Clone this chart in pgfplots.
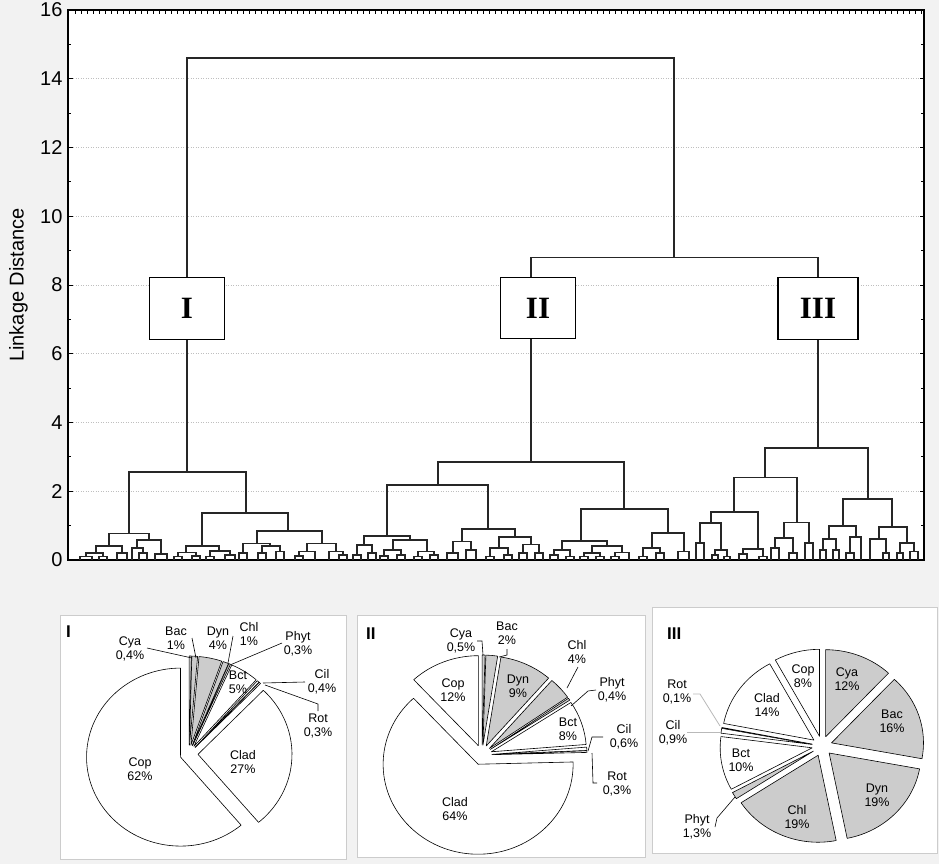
\documentclass[border=0pt]{standalone}
\usepackage{pgfplots}
\pgfplotsset{compat=1.18}
\usepackage{pgfplotstable}
\usepackage{fontspec}
\setmainfont{Liberation Sans}
\newfontfamily\romanfont{Liberation Serif}
\definecolor{slicegrey}{gray}{0.8}
\definecolor{linedark}{gray}{0.15}
\definecolor{bg}{gray}{0.95}

\pgfplotstableread{
name val g
Cya 0.4 1
Bac 1 1
Dyn 4 1
Chl 1 1
Phyt 0.3 1
Bct 5 0
Cil 0.4 0
Rot 0.3 0
Clad 27 0
Cop 62 0
}\pieI
\pgfplotstableread{
name val g
Cya 0.5 1
Bac 2 1
Dyn 9 1
Chl 4 1
Phyt 0.4 1
Bct 8 0
Cil 0.6 0
Rot 0.3 0
Clad 64 0
Cop 12 0
}\pieII
\pgfplotstableread{
name val g
Cya 12 1
Bac 16 1
Dyn 19 1
Chl 19 1
Phyt 1.3 1
Bct 10 0
Cil 0.9 0
Rot 0.1 0
Clad 14 0
Cop 8 0
}\pieIII

% #1 table, #2 cx, #3 cy, #4 rx, #5 ry, #6 explode
\newcommand\drawpie[6]{%
  \gdef\pietotal{0}%
  \pgfplotsforeachungrouped \i in {0,...,9}{%
    \pgfplotstablegetelem{\i}{val}\of{#1}%
    \pgfmathsetmacro\tmp{\pietotal+\pgfplotsretval}%
    \global\let\pietotal\tmp}%
  \gdef\pieang{90}%
  \pgfplotsforeachungrouped \i in {0,...,9}{%
    \pgfplotstablegetelem{\i}{val}\of{#1}%
    \pgfmathsetmacro\sweep{\pgfplotsretval/\pietotal*360}%
    \pgfmathsetmacro\aend{\pieang-\sweep}%
    \pgfmathsetmacro\amid{\pieang-\sweep/2}%
    \pgfmathsetmacro\ox{#2+#6*cos(\amid)}%
    \pgfmathsetmacro\oy{#3+#6*sin(\amid)}%
    \pgfplotstablegetelem{\i}{g}\of{#1}%
    \ifnum\pgfplotsretval=1 \def\fc{slicegrey}\else\def\fc{white}\fi
    \edef\cmd{\noexpand\filldraw[fill=\fc,draw=black,line width=0.6pt,line join=round] (axis cs:\ox,\oy) -- ++(\pieang:#4pt and #5pt) arc[start angle=\pieang,end angle=\aend,x radius=#4pt,y radius=#5pt] -- cycle;}%
    \cmd
    \global\let\pieang\aend}%
}

\tikzset{lab/.style={align=center, font=\fontsize{12.5}{14}\selectfont, inner sep=0pt},
  ldr/.style={black, line width=0.6pt},
  ldrg/.style={gray!55, line width=0.8pt}}

\begin{document}
\begin{tikzpicture}
\useasboundingbox (0,0) rectangle (939pt,-864pt);
\fill[bg] (0,0) rectangle (939pt,-864pt);
\filldraw[fill=white, draw=gray!40, line width=1pt] (60pt,-615pt) rectangle (346pt,-859pt);
\filldraw[fill=white, draw=gray!40, line width=1pt] (357pt,-615pt) rectangle (645pt,-857pt);
\filldraw[fill=white, draw=gray!40, line width=1pt] (652pt,-607pt) rectangle (937pt,-853pt);

\begin{axis}[
  at={(68pt,-560pt)}, anchor=south west,
  scale only axis, width=856pt, height=550pt,
  xmin=68, xmax=924, ymin=0, ymax=16,
  xtick={75,81,...,921}, xticklabels={},
  xtick pos=right,
  ytick={0,2,...,16},
  minor y tick num=1,
  ytick pos=both,
  tick align=inside,
  major tick length=4.5pt, minor tick length=3pt,
  ymajorgrids,
  grid style={gray!50, dash pattern=on 1pt off 1.5pt, line width=0.7pt},
  axis line style={black, line width=1.2pt},
  every tick/.style={black, line width=0.8pt},
  axis background/.style={fill=white},
  tick label style={font=\fontsize{20}{24}\selectfont},
  yticklabel style={xshift=-2pt},
  /pgf/number format/assume math mode=true,
  ylabel={Linkage Distance},
  ylabel style={font=\fontsize{20}{24}\selectfont, at={(axis description cs:-0.058,0.5)}, anchor=center},
  unbounded coords=jump,
  clip=false,
]
\addplot[linedark, line width=1.8pt, mark=none] coordinates {
(187,2.56) (187,14.6) (674,14.6) (674,8.8) (674,nan)
(531,2.85) (531,8.8) (818,8.8) (818,3.26) (818,nan)
(129,0.77) (129,2.56) (246,2.56) (246,1.37) (246,nan)
(109,0.41) (109,0.77) (149,0.77) (149,0.58) (149,nan)
(96,0.21) (96,0.41) (122,0.41) (122,0.2) (122,nan)
(86,0.1) (86,0.21) (103,0.21) (103,0.1) (103,nan)
(80,0) (80,0.1) (92,0.1) (92,0) (92,nan)
(99,0) (99,0.1) (107,0.1) (107,0) (107,nan)
(117,0) (117,0.2) (127,0.2) (127,0) (127,nan)
(137,0.35) (137,0.58) (161,0.58) (161,0.18) (161,nan)
(132,0) (132,0.35) (143,0.35) (143,0.2) (143,nan)
(139,0) (139,0.2) (147,0.2) (147,0) (147,nan)
(155,0) (155,0.18) (167,0.18) (167,0) (167,nan)
(202,0.40) (202,1.37) (288,1.37) (288,0.84) (288,nan)
(186,0.22) (186,0.40) (219,0.40) (219,0.26) (219,nan)
(178,0.1) (178,0.22) (196,0.22) (196,0.12) (196,nan)
(174,0) (174,0.1) (182,0.1) (182,0) (182,nan)
(192,0) (192,0.12) (200,0.12) (200,0) (200,nan)
(210,0.1) (210,0.26) (230,0.26) (230,0.15) (230,nan)
(206,0) (206,0.1) (214,0.1) (214,0) (214,nan)
(225,0) (225,0.15) (235,0.15) (235,0) (235,nan)
(257,0.48) (257,0.84) (322,0.84) (322,0.48) (322,nan)
(243,0.2) (243,0.48) (270,0.48) (270,0.41) (270,nan)
(239,0) (239,0.2) (247,0.2) (247,0) (247,nan)
(262,0.2) (262,0.41) (280,0.41) (280,0.25) (280,nan)
(258,0) (258,0.2) (266,0.2) (266,0) (266,nan)
(276,0) (276,0.25) (284,0.25) (284,0) (284,nan)
(307,0.25) (307,0.48) (336,0.48) (336,0.25) (336,nan)
(299,0.12) (299,0.25) (315,0.25) (315,0) (315,nan)
(295,0) (295,0.12) (303,0.12) (303,0) (303,nan)
(329,0) (329,0.25) (343,0.25) (343,0.15) (343,nan)
(339,0) (339,0.15) (347,0.15) (347,0) (347,nan)
(438,2.19) (438,2.85) (624,2.85) (624,1.48) (624,nan)
(387,0.70) (387,2.19) (488,2.19) (488,0.90) (488,nan)
(364,0.44) (364,0.70) (410,0.70) (410,0.58) (410,nan)
(357,0.15) (357,0.44) (372,0.44) (372,0.2) (372,nan)
(353,0) (353,0.15) (361,0.15) (361,0) (361,nan)
(368,0) (368,0.2) (376,0.2) (376,0) (376,nan)
(393,0.3) (393,0.58) (427,0.58) (427,0.25) (427,nan)
(384,0.12) (384,0.3) (401,0.3) (401,0.15) (401,nan)
(380,0) (380,0.12) (388,0.12) (388,0) (388,nan)
(397,0) (397,0.15) (405,0.15) (405,0) (405,nan)
(418,0.1) (418,0.25) (434,0.25) (434,0.15) (434,nan)
(414,0) (414,0.1) (422,0.1) (422,0) (422,nan)
(430,0) (430,0.15) (438,0.15) (438,0) (438,nan)
(462,0.54) (462,0.90) (515,0.90) (515,0.68) (515,nan)
(453,0.2) (453,0.54) (471,0.54) (471,0.3) (471,nan)
(447,0) (447,0.2) (458,0.2) (458,0) (458,nan)
(466,0) (466,0.3) (476,0.3) (476,0) (476,nan)
(499,0.35) (499,0.68) (531,0.68) (531,0.45) (531,nan)
(490,0.1) (490,0.35) (508,0.35) (508,0.15) (508,nan)
(486,0) (486,0.1) (494,0.1) (494,0) (494,nan)
(504,0) (504,0.15) (512,0.15) (512,0) (512,nan)
(523,0.2) (523,0.45) (539,0.45) (539,0.2) (539,nan)
(519,0) (519,0.2) (527,0.2) (527,0) (527,nan)
(535,0) (535,0.2) (543,0.2) (543,0) (543,nan)
(581,0.56) (581,1.48) (668,1.48) (668,0.78) (668,nan)
(562,0.3) (562,0.56) (607,0.56) (607,0.4) (607,nan)
(554,0.15) (554,0.3) (570,0.3) (570,0.1) (570,nan)
(550,0) (550,0.15) (558,0.15) (558,0) (558,nan)
(566,0) (566,0.1) (574,0.1) (574,0) (574,nan)
(592,0.2) (592,0.4) (622,0.4) (622,0.22) (622,nan)
(584,0.1) (584,0.2) (600,0.2) (600,0.1) (600,nan)
(580,0) (580,0.1) (588,0.1) (588,0) (588,nan)
(596,0) (596,0.1) (604,0.1) (604,0) (604,nan)
(615,0.1) (615,0.22) (629,0.22) (629,0) (629,nan)
(611,0) (611,0.1) (619,0.1) (619,0) (619,nan)
(652,0.35) (652,0.78) (684,0.78) (684,0.25) (684,nan)
(643,0.1) (643,0.35) (660,0.35) (660,0.2) (660,nan)
(639,0) (639,0.1) (647,0.1) (647,0) (647,nan)
(656,0) (656,0.2) (664,0.2) (664,0) (664,nan)
(678,0) (678,0.25) (689,0.25) (689,0) (689,nan)
(765,2.40) (765,3.26) (868,3.26) (868,1.77) (868,nan)
(734,1.39) (734,2.40) (797,2.40) (797,1.09) (797,nan)
(711,1.08) (711,1.39) (758,1.39) (758,0.32) (758,nan)
(700,0.5) (700,1.08) (721,1.08) (721,0.3) (721,nan)
(696,0) (696,0.5) (704,0.5) (704,0) (704,nan)
(715,0.15) (715,0.3) (727,0.3) (727,0.1) (727,nan)
(712,0) (712,0.15) (718,0.15) (718,0) (718,nan)
(724,0) (724,0.1) (730,0.1) (730,0) (730,nan)
(743,0.18) (743,0.32) (763,0.32) (763,0.1) (763,nan)
(739,0) (739,0.18) (747,0.18) (747,0) (747,nan)
(759,0) (759,0.1) (767,0.1) (767,0) (767,nan)
(784,0.64) (784,1.09) (809,1.09) (809,0.5) (809,nan)
(775,0.35) (775,0.64) (793,0.64) (793,0.2) (793,nan)
(771,0) (771,0.35) (779,0.35) (779,0) (779,nan)
(789,0) (789,0.2) (797,0.2) (797,0) (797,nan)
(805,0) (805,0.5) (813,0.5) (813,0) (813,nan)
(843,1.0) (843,1.77) (892,1.77) (892,0.95) (892,nan)
(829,0.6) (829,1.0) (856,1.0) (856,0.67) (856,nan)
(823,0.3) (823,0.6) (836,0.6) (836,0.3) (836,nan)
(820,0) (820,0.3) (826,0.3) (826,0) (826,nan)
(833,0) (833,0.3) (839,0.3) (839,0) (839,nan)
(850,0.2) (850,0.67) (861,0.67) (861,0) (861,nan)
(846,0) (846,0.2) (854,0.2) (854,0) (854,nan)
(879,0.62) (879,0.95) (907,0.95) (907,0.5) (907,nan)
(870,0) (870,0.62) (886,0.62) (886,0.2) (886,nan)
(883,0) (883,0.2) (889,0.2) (889,0) (889,nan)
(900,0.2) (900,0.5) (914,0.5) (914,0.25) (914,nan)
(897,0) (897,0.2) (903,0.2) (903,0) (903,nan)
(910,0) (910,0.25) (918,0.25) (918,0) (918,nan)
};
\node[draw=black, line width=1.2pt, fill=white, minimum width=75pt, minimum height=62pt, inner sep=0pt, font=\romanfont\bfseries\fontsize{31}{31}\selectfont] at (axis cs:187,7.31) {I};
\node[draw=black, line width=1.2pt, fill=white, minimum width=75pt, minimum height=61pt, inner sep=0pt, font=\romanfont\bfseries\fontsize{31}{31}\selectfont] at (axis cs:538,7.33) {II};
\node[draw=black, line width=1.2pt, fill=white, minimum width=80pt, minimum height=62pt, inner sep=0pt, font=\romanfont\bfseries\fontsize{31}{31}\selectfont] at (axis cs:818,7.31) {III};
\end{axis}

\begin{axis}[at={(0pt,-864pt)}, anchor=south west, scale only axis,
  x=1pt, y=1pt, xmin=0, xmax=939, ymin=-864, ymax=-600, hide axis, clip=false]
\drawpie{\pieI}{189}{-754}{94}{89}{9}
\drawpie{\pieII}{482}{-755}{95}{90}{10}
\drawpie{\pieIII}{822}{-746}{92}{87}{10}
% pie I labels
\node[anchor=west, inner sep=0pt, font=\bfseries\fontsize{17}{17}\selectfont] at (axis cs:66,-632) {I};
\node[lab] at (axis cs:140,-769) {Cop\\62\%};
\node[lab] at (axis cs:243,-762) {Clad\\27\%};
\node[lab] at (axis cs:238,-682) {Bct\\5\%};
\node[lab] at (axis cs:130,-649) {Cya\\0,4\%};
\node[lab] at (axis cs:176,-638) {Bac\\1\%};
\node[lab] at (axis cs:218,-638) {Dyn\\4\%};
\node[lab] at (axis cs:249,-634) {Chl\\1\%};
\node[lab] at (axis cs:298,-644) {Phyt\\0,3\%};
\node[lab] at (axis cs:322,-682) {Cil\\0,4\%};
\node[lab] at (axis cs:318,-726) {Rot\\0,3\%};
\draw[ldr] (axis cs:147,-648) -- (axis cs:192,-658);
\draw[ldr] (axis cs:192,-638) -- (axis cs:196,-658);
\draw[ldr] (axis cs:233,-636) -- (axis cs:228,-663);
\draw[ldr] (axis cs:282,-643) -- (axis cs:230,-665);
\draw[ldr] (axis cs:305,-682) -- (axis cs:263,-683);
\draw[ldr] (axis cs:318,-711) -- (axis cs:318,-704) -- (axis cs:265,-685);
% pie II labels
\node[anchor=west, inner sep=0pt, font=\bfseries\fontsize{17}{17}\selectfont] at (axis cs:366,-634) {II};
\node[lab] at (axis cs:461,-641) {Cya\\0,5\%};
\node[lab] at (axis cs:507,-633) {Bac\\2\%};
\node[lab] at (axis cs:577,-652) {Chl\\4\%};
\node[lab] at (axis cs:612,-690) {Phyt\\0,4\%};
\node[lab] at (axis cs:624,-737) {Cil\\0,6\%};
\node[lab] at (axis cs:617,-784) {Rot\\0,3\%};
\node[lab] at (axis cs:453,-690) {Cop\\12\%};
\node[lab] at (axis cs:518,-686) {Dyn\\9\%};
\node[lab] at (axis cs:568,-729) {Bct\\8\%};
\node[lab] at (axis cs:455,-809) {Clad\\64\%};
\draw[ldr] (axis cs:477,-641) -- (axis cs:482,-641) -- (axis cs:483,-655);
\draw[ldr] (axis cs:507,-649) -- (axis cs:507,-655) -- (axis cs:499,-657);
\draw[ldr] (axis cs:578,-667) -- (axis cs:567,-688);
\draw[ldr] (axis cs:596,-690) -- (axis cs:588,-691) -- (axis cs:571,-706);
\draw[ldr] (axis cs:603,-737) -- (axis cs:592,-737) -- (axis cs:588,-751);
\draw[ldr] (axis cs:597,-783) -- (axis cs:593,-783) -- (axis cs:592,-753);
% pie III labels
\node[anchor=west, inner sep=0pt, font=\bfseries\fontsize{17}{17}\selectfont] at (axis cs:667,-634) {III};
\node[lab] at (axis cs:847,-679) {Cya\\12\%};
\node[lab] at (axis cs:892,-721) {Bac\\16\%};
\node[lab] at (axis cs:877,-795) {Dyn\\19\%};
\node[lab] at (axis cs:797,-817) {Chl\\19\%};
\node[lab] at (axis cs:741,-760) {Bct\\10\%};
\node[lab] at (axis cs:767,-705) {Clad\\14\%};
\node[lab] at (axis cs:803,-676) {Cop\\8\%};
\node[lab] at (axis cs:677,-692) {Rot\\0,1\%};
\node[lab] at (axis cs:673,-733) {Cil\\0,9\%};
\node[lab] at (axis cs:697,-827) {Phyt\\1,3\%};
\draw[ldrg] (axis cs:693,-694) -- (axis cs:700,-694) -- (axis cs:720,-726);
\draw[ldrg] (axis cs:687,-732) -- (axis cs:721,-732);
\draw[ldr] (axis cs:715,-827) -- (axis cs:717,-818) -- (axis cs:735,-797);
\end{axis}
\end{tikzpicture}
\end{document}
